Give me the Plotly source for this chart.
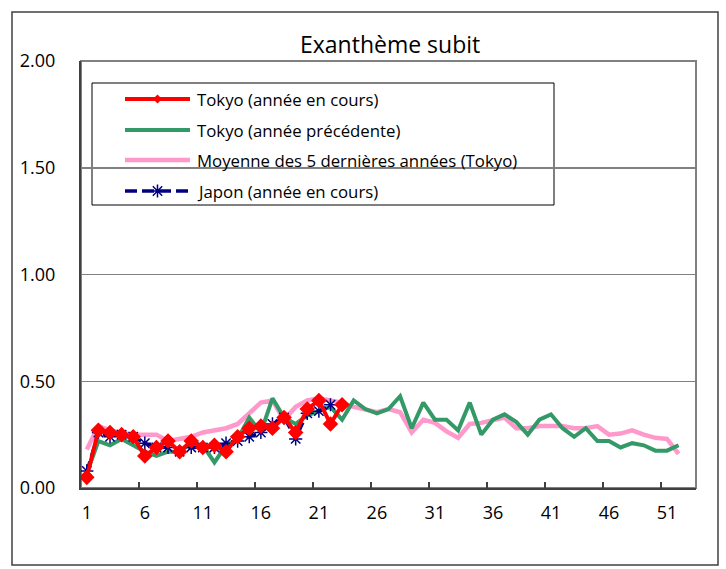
import plotly.graph_objects as go

# ---------------- data ----------------
weeks = list(range(1, 53))

tokyo_current = [0.05, 0.27, 0.26, 0.25, 0.24, 0.15, 0.19, 0.22, 0.17, 0.22,
                 0.19, 0.20, 0.17, 0.24, 0.28, 0.29, 0.28, 0.33, 0.26, 0.37,
                 0.41, 0.30, 0.39]

japan_current = [0.08, 0.26, 0.24, 0.25, 0.24, 0.21, 0.19, 0.19, 0.17, 0.19,
                 0.19, 0.19, 0.21, 0.22, 0.24, 0.26, 0.30, 0.33, 0.23, 0.35,
                 0.36, 0.39]

tokyo_previous = [0.07, 0.22, 0.20, 0.23, 0.20, 0.17, 0.15, 0.17, 0.17, 0.21,
                  0.20, 0.12, 0.20, 0.23, 0.33, 0.26, 0.42, 0.33, 0.30, 0.34,
                  0.36, 0.38, 0.32, 0.41, 0.37, 0.35, 0.37, 0.43, 0.28, 0.40,
                  0.32, 0.32, 0.27, 0.40, 0.25, 0.32, 0.345, 0.31, 0.25, 0.32,
                  0.345, 0.28, 0.24, 0.28, 0.22, 0.22, 0.19, 0.21, 0.20, 0.175,
                  0.175, 0.20]

tokyo_5yr_avg = [0.18, 0.29, 0.27, 0.26, 0.25, 0.25, 0.25, 0.22, 0.23, 0.24,
                 0.26, 0.27, 0.28, 0.30, 0.35, 0.40, 0.41, 0.32, 0.38, 0.41,
                 0.42, 0.41, 0.40, 0.38, 0.37, 0.355, 0.37, 0.355, 0.26, 0.32,
                 0.305, 0.265, 0.235, 0.30, 0.305, 0.32, 0.33, 0.28, 0.28, 0.29,
                 0.29, 0.29, 0.28, 0.28, 0.29, 0.25, 0.255, 0.27, 0.25, 0.235,
                 0.23, 0.16]

x_tick_labels = ["1", "6", "11", "16", "21", "26", "31", "36", "41", "46", "51"]
y_tick_values = [0.0, 0.5, 1.0, 1.5, 2.0]
y_tick_labels = ["0.00", "0.50", "1.00", "1.50", "2.00"]

title_text = "Exanthème subit"
legend_labels = ["Tokyo (année en cours)",
                 "Tokyo (année précédente)",
                 "Moyenne des 5 dernières années (Tokyo)",
                 "Japon (année en cours)"]

# ---------------- styles ----------------
RED = "#FF0000"
GREEN = "#339966"
PINK = "#FF99CC"
NAVY = "#000080"
FONT = "Open Sans"

# plot area in pixels
L, R, T, B = 81, 696, 61, 488
W, H = R - L, B - T


def px(x):
    return (x - L) / W


def py(y):
    return (B - y) / H


fig = go.Figure()

# data traces
fig.add_trace(go.Scatter(x=weeks[:len(tokyo_5yr_avg)], y=tokyo_5yr_avg, mode="lines",
                         line=dict(color=PINK, width=4.5), showlegend=False))
fig.add_trace(go.Scatter(x=weeks[:len(tokyo_previous)], y=tokyo_previous, mode="lines",
                         line=dict(color=GREEN, width=4), showlegend=False))
fig.add_trace(go.Scatter(x=weeks[:len(japan_current)], y=japan_current, mode="lines+markers",
                         line=dict(color=NAVY, width=3, dash="10px,5px"),
                         marker=dict(symbol="asterisk-open", size=11, color=NAVY,
                                     line=dict(color=NAVY, width=1.5)),
                         showlegend=False))
fig.add_trace(go.Scatter(x=weeks[:len(tokyo_current)], y=tokyo_current, mode="lines+markers",
                         line=dict(color=RED, width=4),
                         marker=dict(symbol="diamond", size=12, color=RED),
                         showlegend=False))

# ---------------- custom legend (pixel overlay axes) ----------------
rows_y = [99, 130, 160, 191]
sample_x0, sample_x1 = 125, 190
sample_mid = (sample_x0 + sample_x1) / 2
legend_styles = [
    dict(line=dict(color=RED, width=4), marker=dict(symbol="diamond", size=7, color=RED)),
    dict(line=dict(color=GREEN, width=4), marker=None),
    dict(line=dict(color=PINK, width=4.5), marker=None),
    dict(line=dict(color=NAVY, width=3.5, dash="12px,5px"),
         marker=dict(symbol="asterisk-open", size=11, color=NAVY,
                     line=dict(color=NAVY, width=1.5))),
]
for ry, st in zip(rows_y, legend_styles):
    fig.add_trace(go.Scatter(x=[sample_x0, sample_x1], y=[ry, ry], mode="lines",
                             line=st["line"], xaxis="x2", yaxis="y2",
                             showlegend=False, hoverinfo="skip"))
    if st["marker"] is not None:
        fig.add_trace(go.Scatter(x=[sample_mid], y=[ry], mode="markers",
                                 marker=st["marker"], xaxis="x2", yaxis="y2",
                                 showlegend=False, hoverinfo="skip"))

shapes = [
    # plot-area frame (gray)
    dict(type="rect", xref="paper", yref="paper", x0=0, x1=1, y0=0, y1=1,
         line=dict(color="#808080", width=2), layer="below"),
    # legend box
    dict(type="rect", xref="paper", yref="paper",
         x0=px(92), x1=px(554), y0=py(205), y1=py(83),
         line=dict(color="#000000", width=1), fillcolor="white", layer="between"),
    # outer chart border
    dict(type="rect", xref="paper", yref="paper",
         x0=px(12), x1=px(718), y0=py(565), y1=py(12),
         line=dict(color="#404040", width=1.5), layer="above"),
]

annotations = [
    dict(text=title_text, xref="paper", yref="paper", x=px(390), y=py(44),
         xanchor="center", yanchor="middle", showarrow=False,
         font=dict(family=FONT, size=23, color="black")),
]
for ry, lab in zip(rows_y, legend_labels):
    annotations.append(dict(text=lab, xref="paper", yref="paper", x=px(195), y=py(ry),
                            xanchor="left", yanchor="middle", showarrow=False,
                            font=dict(family=FONT, size=16.8, color="black")))

x_tick_vals = [int(t) for t in x_tick_labels]
minor_vals = [v - 0.5 for v in x_tick_vals[1:]]

fig.update_layout(
    width=726, height=569,
    margin=dict(l=L, r=726 - R, t=T, b=569 - B, pad=0),
    paper_bgcolor="white", plot_bgcolor="white",
    font=dict(family=FONT, color="black"),
    showlegend=False,
    hovermode=False,
    xaxis=dict(range=[0.5, 53.5], tickmode="array", tickvals=x_tick_vals,
               ticktext=x_tick_labels, ticks="", showgrid=False, zeroline=False,
               showline=True, linecolor="#404040", linewidth=2,
               tickfont=dict(family=FONT, size=18, color="black"),
               ticklabelstandoff=7,
               minor=dict(tickmode="array", tickvals=minor_vals, ticks="inside",
                          ticklen=6, tickwidth=1.5, tickcolor="#404040",
                          showgrid=False)),
    yaxis=dict(range=[0, 2], tickmode="array", tickvals=y_tick_values,
               ticktext=y_tick_labels, ticks="", showgrid=True,
               gridcolor="#808080", gridwidth=1.5, zeroline=False,
               showline=True, linecolor="#404040", linewidth=2,
               tickfont=dict(family=FONT, size=18, color="black"),
               ticklabelstandoff=20),
    xaxis2=dict(overlaying="x", range=[L, R], visible=False, fixedrange=True),
    yaxis2=dict(overlaying="y", range=[B, T], visible=False, fixedrange=True),
    shapes=shapes,
    annotations=annotations,
)

fig.write_html("out.html",
               config={"displayModeBar": False, "staticPlot": True},
               post_script="document.body.style.margin='0';document.body.style.overflow='hidden';")
